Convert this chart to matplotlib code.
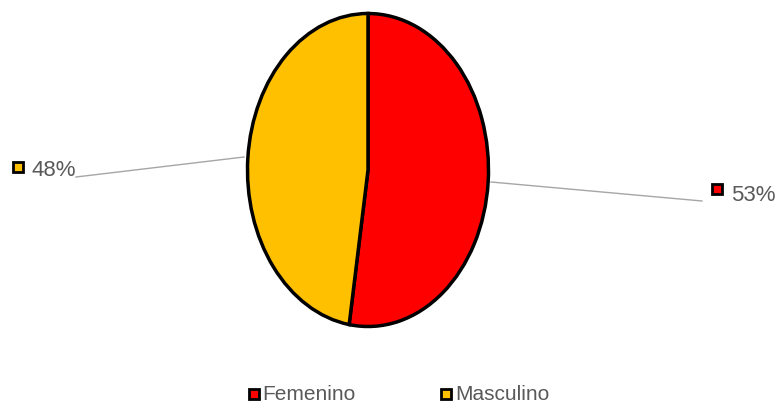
import matplotlib
matplotlib.use("Agg")
import matplotlib.pyplot as plt
from matplotlib import font_manager
from matplotlib.lines import Line2D
from matplotlib.patches import Rectangle

categories = ["Femenino", "Masculino"]
values = [52.5, 47.5]
pct_labels = ["53%", "48%"]
colors = ["#FF0000", "#FFC000"]

names = {f.name for f in font_manager.fontManager.ttflist}
fam = "Liberation Sans Narrow" if "Liberation Sans Narrow" in names else "Liberation Sans"
text_color = "#595959"

W, H = 777, 406
fig = plt.figure(figsize=(W / 100, H / 100), dpi=100)

# pie axes (stretched ellipse)
ax = fig.add_axes([247.5 / W, (H - 327.5) / H, 241 / W, 313 / H])
ax.pie(values, colors=colors, startangle=90, counterclock=False,
       wedgeprops=dict(edgecolor="black", linewidth=2.5))
ax.set_aspect("auto")
ax.set_xlim(-1, 1)
ax.set_ylim(-1, 1)
ax.axis("off")

def px(x, y):
    return x / W, (H - y) / H

# leader lines
for (x0, y0, x1, y1) in [(491, 183, 702, 202), (244, 158, 76, 178)]:
    a, b = px(x0, y0)
    c, d = px(x1, y1)
    fig.add_artist(Line2D([a, c], [b, d], color="#A6A6A6", lw=1.0))

def marker(x, y, color, size=10):
    a, b = px(x, y + size)
    fig.add_artist(Rectangle((a, b), size / W, size / H, facecolor=color,
                             edgecolor="black", lw=2.0, transform=fig.transFigure))

# data labels
marker(712, 185, colors[0])
fig.text(*px(731, 196), pct_labels[0], fontsize=16, color=text_color,
         family=fam, va="center", ha="left")
marker(13, 163, colors[1])
fig.text(*px(31, 170), pct_labels[1], fontsize=16, color=text_color,
         family=fam, va="center", ha="left")

# legend
marker(249, 390, colors[0])
fig.text(*px(262, 395), categories[0], fontsize=15, color=text_color,
         family=fam, va="center", ha="left")
marker(441, 390, colors[1])
fig.text(*px(455, 395), categories[1], fontsize=15, color=text_color,
         family=fam, va="center", ha="left")

fig.savefig("out.png", dpi=100, facecolor="white")
